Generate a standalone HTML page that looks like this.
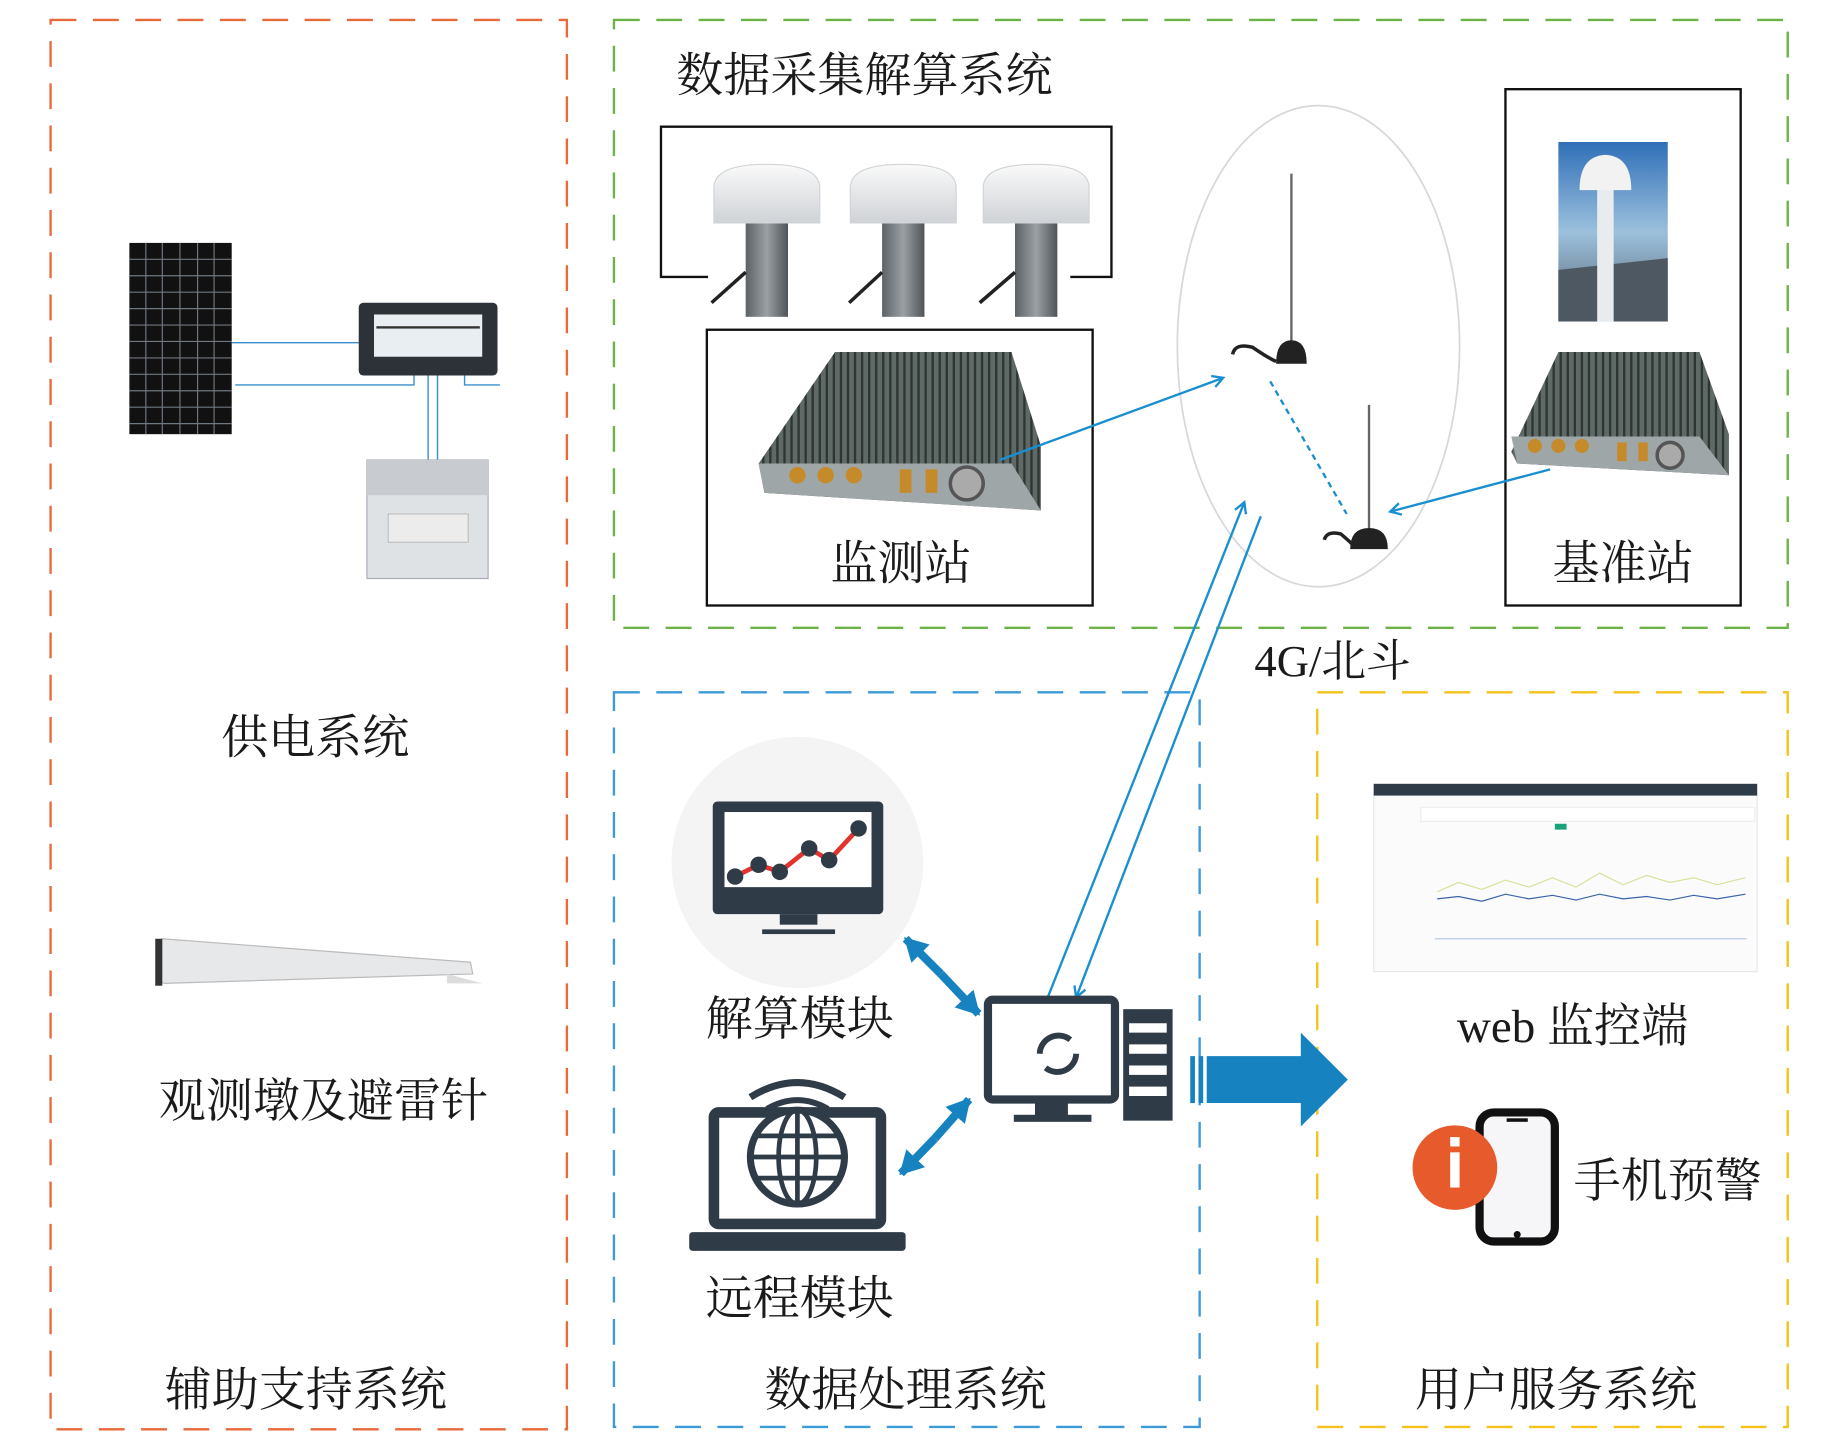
<!DOCTYPE html>
<html><head><meta charset="utf-8"><style>
html,body{margin:0;padding:0;background:#fff;}
svg{display:block;}
text{font-family:"Liberation Serif","Noto Serif CJK SC",serif;fill:#1a1a1a;}
</style></head><body>
<svg width="1843" height="1441" viewBox="0 0 1567 1228" preserveAspectRatio="none" xmlns="http://www.w3.org/2000/svg">
<defs>
<linearGradient id="dome" x1="0" y1="0" x2="0" y2="1"><stop offset="0" stop-color="#fafafa"/><stop offset="1" stop-color="#cfd2d6"/></linearGradient>
<linearGradient id="cyl" x1="0" y1="0" x2="1" y2="0"><stop offset="0" stop-color="#5c6266"/><stop offset=".5" stop-color="#9aa0a4"/><stop offset="1" stop-color="#4e5458"/></linearGradient>
<linearGradient id="sky" x1="0" y1="0" x2="0" y2="1"><stop offset="0" stop-color="#2f6fb8"/><stop offset=".5" stop-color="#9cc0dc"/><stop offset="1" stop-color="#556270"/></linearGradient>
<pattern id="fins" width="6" height="10" patternUnits="userSpaceOnUse"><rect width="6" height="10" fill="#5f6a66"/><rect width="2" height="10" fill="#2e3533"/></pattern>
<marker id="ah" markerWidth="12" markerHeight="12" refX="10" refY="6" orient="auto" markerUnits="userSpaceOnUse"><path d="M1,1 L10,6 L1,11" fill="none" stroke="#1a8fd0" stroke-width="2"/></marker>
<marker id="bh" markerWidth="22" markerHeight="22" refX="18" refY="11" orient="auto" markerUnits="userSpaceOnUse"><path d="M0,0 L20,11 L0,22 Z" fill="#1683c0"/></marker>
</defs>

<rect x="43" y="17" width="439" height="1201" fill="none" stroke="#e8693a" stroke-width="2" stroke-dasharray="22,14"/>
<rect x="522" y="17" width="998" height="518" fill="none" stroke="#6cb347" stroke-width="2" stroke-dasharray="22,14"/>
<rect x="522" y="590" width="498" height="626" fill="none" stroke="#3b9ad8" stroke-width="2" stroke-dasharray="22,14"/>
<rect x="1120" y="590" width="400" height="626" fill="none" stroke="#f4c21a" stroke-width="2" stroke-dasharray="22,14"/>

<rect x="110" y="207" width="87" height="163" fill="#111"/>
<g stroke="#6f7780" stroke-width="1">
<line x1="124" y1="207" x2="124" y2="370"/><line x1="138" y1="207" x2="138" y2="370"/><line x1="153" y1="207" x2="153" y2="370"/><line x1="168" y1="207" x2="168" y2="370"/><line x1="182" y1="207" x2="182" y2="370"/>
<line x1="110" y1="221" x2="197" y2="221"/><line x1="110" y1="235" x2="197" y2="235"/><line x1="110" y1="249" x2="197" y2="249"/><line x1="110" y1="263" x2="197" y2="263"/><line x1="110" y1="277" x2="197" y2="277"/><line x1="110" y1="291" x2="197" y2="291"/><line x1="110" y1="305" x2="197" y2="305"/><line x1="110" y1="319" x2="197" y2="319"/><line x1="110" y1="333" x2="197" y2="333"/><line x1="110" y1="347" x2="197" y2="347"/><line x1="110" y1="361" x2="197" y2="361"/>
</g>
<g stroke="#3a8fd0" stroke-width="1.2" fill="none">
<polyline points="197,292 345,292 345,300"/><polyline points="200,328 352,328 352,318"/>
<line x1="364" y1="318" x2="364" y2="405"/><line x1="372" y1="318" x2="372" y2="405"/>
<polyline points="395,318 395,328 425,328"/>
</g>
<rect x="305" y="258" width="118" height="62" rx="4" fill="#2c3238"/>
<rect x="318" y="268" width="92" height="36" fill="#e8eef2"/>
<rect x="320" y="278" width="88" height="2" fill="#333"/>
<rect x="312" y="392" width="103" height="101" fill="#dfe2e4" stroke="#aab" stroke-width="1"/>
<rect x="312" y="392" width="103" height="30" fill="#c8ccd0"/>
<rect x="330" y="438" width="68" height="24" fill="#ececec" stroke="#999" stroke-width=".5"/>

<path d="M134,802 L138,800 L400,820 L402,830 L140,838 L134,836 Z" fill="#e6e8ea" stroke="#bbb" stroke-width="1"/>
<rect x="132" y="800" width="6" height="40" fill="#333"/>
<path d="M380,830 L410,838 L380,838 Z" fill="#ddd"/>

<text x="268" y="642" font-size="40" text-anchor="middle">供电系统</text>
<text x="275" y="952" font-size="40" text-anchor="middle">观测墩及避雷针</text>
<text x="260" y="1198" font-size="40" text-anchor="middle">辅助支持系统</text>

<text x="575" y="78" font-size="40">数据采集解算系统</text>
<polyline points="602,236 562,236 562,108 945,108 945,236 910,236" fill="none" stroke="#111" stroke-width="2"/>
<g>
<rect x="634" y="185" width="36" height="85" fill="url(#cyl)"/><path d="M607,190 L607,160 Q607,140 652,140 Q697,140 697,160 L697,190 Z" fill="url(#dome)" stroke="#d0d4d8"/>
<rect x="750" y="185" width="36" height="85" fill="url(#cyl)"/><path d="M723,190 L723,160 Q723,140 768,140 Q813,140 813,160 L813,190 Z" fill="url(#dome)" stroke="#d0d4d8"/>
<rect x="863" y="185" width="36" height="85" fill="url(#cyl)"/><path d="M836,190 L836,160 Q836,140 881,140 Q926,140 926,160 L926,190 Z" fill="url(#dome)" stroke="#d0d4d8"/>
<g stroke="#222" stroke-width="3"><line x1="634" y1="232" x2="605" y2="258"/><line x1="750" y1="232" x2="722" y2="258"/><line x1="863" y1="232" x2="833" y2="258"/></g>
</g>
<rect x="601" y="281" width="328" height="235" fill="none" stroke="#111" stroke-width="2"/>
<path d="M645,395 L710,300 L860,300 L885,380 L885,435 L650,420 Z" fill="url(#fins)"/>
<path d="M645,395 L860,395 L885,435 L650,420 Z" fill="#9ea6a8"/>
<g fill="#c58b2a"><circle cx="678" cy="405" r="7"/><circle cx="702" cy="405" r="7"/><circle cx="726" cy="405" r="7"/><rect x="765" y="400" width="10" height="20"/><rect x="787" y="400" width="10" height="20"/></g>
<circle cx="822" cy="412" r="14" fill="#aaa" stroke="#555" stroke-width="3"/>
<text x="766" y="494" font-size="40" text-anchor="middle">监测站</text>

<rect x="1280" y="76" width="200" height="440" fill="none" stroke="#111" stroke-width="2"/>
<rect x="1325" y="121" width="93" height="153" fill="url(#sky)"/>
<path d="M1325,230 L1418,220 L1418,274 L1325,274 Z" fill="#4d5862"/>
<rect x="1358" y="160" width="14" height="114" fill="#e8ecef"/>
<path d="M1343,162 Q1343,133 1365,132 Q1387,133 1387,162 Z" fill="#f2f2f2"/>
<path d="M1285,385 L1325,300 L1445,300 L1470,370 L1470,405 L1290,395 Z" fill="url(#fins)"/>
<path d="M1285,372 L1445,372 L1470,405 L1290,395 Z" fill="#9ea6a8"/>
<g fill="#c58b2a"><circle cx="1305" cy="380" r="6"/><circle cx="1325" cy="380" r="6"/><circle cx="1345" cy="380" r="6"/><rect x="1375" y="377" width="8" height="16"/><rect x="1393" y="377" width="8" height="16"/></g>
<circle cx="1420" cy="388" r="11" fill="#aaa" stroke="#555" stroke-width="3"/>
<text x="1380" y="494" font-size="40" text-anchor="middle">基准站</text>

<ellipse cx="1121" cy="295" rx="120" ry="205" fill="none" stroke="#d6d9dc" stroke-width="1.5"/>
<line x1="1098" y1="148" x2="1098" y2="295" stroke="#666" stroke-width="2"/>
<path d="M1085,310 Q1085,290 1098,290 Q1111,290 1111,310 Z" fill="#222"/>
<path d="M1048,302 Q1050,292 1065,296 Q1078,305 1085,308" fill="none" stroke="#222" stroke-width="3"/>
<line x1="1164" y1="345" x2="1164" y2="455" stroke="#666" stroke-width="2"/>
<path d="M1148,468 Q1148,450 1164,450 Q1180,450 1180,468 Z" fill="#222"/>
<path d="M1126,460 Q1128,452 1140,455 Q1146,460 1150,464" fill="none" stroke="#222" stroke-width="3"/>
<line x1="1080" y1="325" x2="1145" y2="438" stroke="#1a8fd0" stroke-width="2" stroke-dasharray="5,4"/>
<line x1="850" y1="392" x2="1040" y2="322" stroke="#1a8fd0" stroke-width="2" marker-end="url(#ah)"/>
<line x1="1318" y1="400" x2="1182" y2="436" stroke="#1a8fd0" stroke-width="2" marker-end="url(#ah)"/>
<line x1="890" y1="852" x2="1058" y2="428" stroke="#1a8fd0" stroke-width="2" marker-end="url(#ah)"/>
<line x1="1072" y1="440" x2="915" y2="850" stroke="#1a8fd0" stroke-width="2" marker-end="url(#ah)"/>
<text x="1133" y="576" font-size="38" text-anchor="middle">4G/北斗</text>

<circle cx="678" cy="735" r="107" fill="#f4f4f4"/>
<rect x="606" y="683" width="145" height="96" rx="4" fill="#2f3c48"/>
<rect x="616" y="692" width="125" height="64" fill="#fff"/>
<rect x="663" y="779" width="32" height="9" fill="#2f3c48"/><rect x="648" y="792" width="62" height="4" fill="#2f3c48"/>
<polyline points="625,747 645,737 663,743 688,723 705,733 730,706" fill="none" stroke="#e2332e" stroke-width="4"/>
<g fill="#2f3c48"><circle cx="625" cy="747" r="7"/><circle cx="645" cy="737" r="7"/><circle cx="663" cy="743" r="7"/><circle cx="688" cy="723" r="7"/><circle cx="705" cy="733" r="7"/><circle cx="730" cy="706" r="7"/></g>
<text x="680" y="882" font-size="40" text-anchor="middle">解算模块</text>

<rect x="607" y="948" width="142" height="95" rx="4" fill="none" stroke="#2f3c48" stroke-width="9"/>
<rect x="586" y="1050" width="184" height="16" rx="3" fill="#2f3c48"/>
<circle cx="678" cy="986" r="40" fill="#fff" stroke="#2f3c48" stroke-width="6"/>
<g stroke="#2f3c48" stroke-width="4" fill="none"><ellipse cx="678" cy="986" rx="16" ry="40"/><line x1="678" y1="946" x2="678" y2="1026"/><line x1="638" y1="986" x2="718" y2="986"/><line x1="642" y1="968" x2="714" y2="968"/><line x1="642" y1="1004" x2="714" y2="1004"/></g>
<path d="M638,935 Q678,910 718,935" fill="none" stroke="#2f3c48" stroke-width="6"/>
<path d="M652,945 Q678,930 704,945" fill="none" stroke="#2f3c48" stroke-width="5"/>
<text x="680" y="1120" font-size="40" text-anchor="middle">远程模块</text>

<rect x="840" y="852" width="108" height="85" rx="4" fill="#fff" stroke="#2f3c48" stroke-width="7"/>
<rect x="955" y="860" width="42" height="95" fill="#2f3c48"/>
<g fill="#fff"><rect x="960" y="872" width="32" height="8"/><rect x="960" y="890" width="32" height="8"/><rect x="960" y="908" width="32" height="8"/><rect x="960" y="926" width="32" height="8"/></g>
<rect x="880" y="937" width="28" height="14" fill="#2f3c48"/><rect x="862" y="950" width="66" height="6" fill="#2f3c48"/>
<path d="M884,898 A16,16 0 0 1 910,886" fill="none" stroke="#2f3c48" stroke-width="5"/>
<path d="M915,898 A16,16 0 0 1 889,910" fill="none" stroke="#2f3c48" stroke-width="5"/>
<line x1="800" y1="830" x2="770" y2="800" stroke="#1683c0" stroke-width="7" marker-end="url(#bh)"/>
<line x1="800" y1="830" x2="832" y2="864" stroke="#1683c0" stroke-width="7" marker-end="url(#bh)"/>
<line x1="795" y1="970" x2="766" y2="1000" stroke="#1683c0" stroke-width="7" marker-end="url(#bh)"/>
<line x1="795" y1="970" x2="824" y2="937" stroke="#1683c0" stroke-width="7" marker-end="url(#bh)"/>
<text x="770" y="1198" font-size="40" text-anchor="middle">数据处理系统</text>

<rect x="1012" y="900" width="4" height="40" fill="#1683c0"/><rect x="1019" y="900" width="4" height="40" fill="#1683c0"/>
<path d="M1026,900 L1106,900 L1106,880 L1146,920 L1106,960 L1106,940 L1026,940 Z" fill="#1683c0"/>

<rect x="1168" y="668" width="326" height="160" fill="#fbfbfc" stroke="#e6e8ea"/>
<rect x="1168" y="668" width="326" height="10" fill="#2f3c48"/>
<rect x="1208" y="688" width="284" height="12" fill="#fff" stroke="#eee"/>
<rect x="1322" y="702" width="10" height="5" fill="#1aa37a"/>
<polyline points="1222,760 1240,752 1260,758 1280,750 1300,756 1320,748 1340,756 1360,744 1380,754 1400,746 1420,752 1440,748 1460,754 1484,748" fill="none" stroke="#d6e29a" stroke-width="1"/>
<polyline points="1222,766 1240,764 1260,768 1280,762 1300,766 1320,763 1340,767 1360,762 1380,766 1400,764 1420,767 1440,763 1460,766 1484,762" fill="none" stroke="#3a63a8" stroke-width="1"/>
<line x1="1220" y1="800" x2="1485" y2="800" stroke="#b6cde6" stroke-width="1"/>
<text x="1337" y="888" font-size="40" text-anchor="middle">web 监控端</text>

<rect x="1258" y="948" width="64" height="110" rx="12" fill="#f6f6f8" stroke="#111" stroke-width="7"/>
<rect x="1281" y="953" width="18" height="3" fill="#111"/><circle cx="1290" cy="1052" r="3" fill="#111"/>
<circle cx="1237" cy="995" r="36" fill="#e65a2c"/>
<rect x="1233" y="982" width="8" height="30" fill="#fff"/><rect x="1233" y="969" width="8" height="8" fill="#fff"/>
<text x="1418" y="1020" font-size="40" text-anchor="middle">手机预警</text>
<text x="1323" y="1198" font-size="40" text-anchor="middle">用户服务系统</text>
</svg>
</body></html>
